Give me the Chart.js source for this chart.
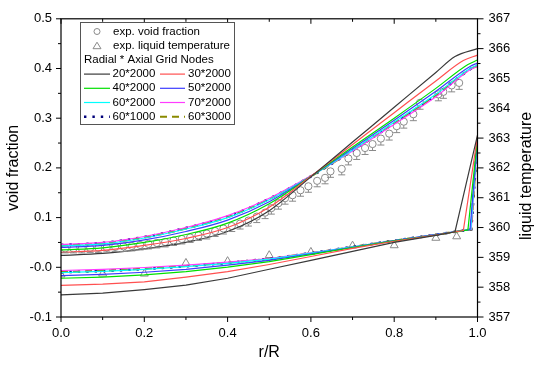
<!DOCTYPE html>
<html>
<head>
<meta charset="utf-8">
<script src="https://cdn.jsdelivr.net/npm/chart.js@4.4.1/dist/chart.umd.min.js"></script>
<style>
  html, body { margin: 0; padding: 0; background: #fff; }
</style>
</head>
<body>
<canvas id="chart" width="534" height="366"></canvas>
<script>
// radial positions shared by all simulated curves (plus a per-series kink point and the wall)
const rGrid = [0, 0.1, 0.2, 0.3, 0.4, 0.5, 0.6, 0.7, 0.8, 0.9];
const seriesNames = ['20*2000', '30*2000', '40*2000', '50*2000', '60*2000', '70*2000', '60*3000', '60*1000'];
const kinkR = [0.946, 0.966, 0.977, 0.982, 0.984, 0.985, 0.985, 0.985];

// void fraction (left axis): values at rGrid, kink, r/R = 1
const void20 = [0.024, 0.028, 0.037, 0.050, 0.072, 0.114, 0.182, 0.252, 0.322, 0.392, 0.424, 0.440];
const void30 = [0.030, 0.034, 0.044, 0.058, 0.080, 0.121, 0.183, 0.247, 0.311, 0.375, 0.416, 0.427];
const void40 = [0.035, 0.039, 0.050, 0.066, 0.089, 0.128, 0.183, 0.242, 0.300, 0.360, 0.408, 0.417];
const void50 = [0.040, 0.044, 0.055, 0.072, 0.095, 0.132, 0.183, 0.239, 0.296, 0.354, 0.404, 0.411];
const void60 = [0.043, 0.047, 0.059, 0.077, 0.100, 0.136, 0.183, 0.236, 0.292, 0.348, 0.401, 0.407];
const void70 = [0.046, 0.050, 0.062, 0.080, 0.104, 0.139, 0.184, 0.234, 0.288, 0.343, 0.399, 0.404];
const void60x3000 = [0.044, 0.048, 0.060, 0.078, 0.101, 0.137, 0.183, 0.235, 0.290, 0.346, 0.400, 0.405];
const void60x1000 = [0.045, 0.049, 0.061, 0.079, 0.102, 0.138, 0.183, 0.235, 0.290, 0.346, 0.400, 0.406];

// liquid temperature (right axis)
const temp20 = [357.74, 357.80, 357.92, 358.07, 358.30, 358.60, 358.90, 359.20, 359.50, 359.74, 359.86, 363.10];
const temp30 = [358.06, 358.10, 358.18, 358.34, 358.52, 358.76, 359.03, 359.30, 359.54, 359.75, 359.90, 363.05];
const temp40 = [358.30, 358.34, 358.41, 358.52, 358.67, 358.86, 359.09, 359.33, 359.55, 359.75, 359.92, 363.00];
const temp50 = [358.39, 358.43, 358.50, 358.60, 358.74, 358.90, 359.12, 359.34, 359.56, 359.76, 359.93, 362.95];
const temp60 = [358.49, 358.53, 358.60, 358.69, 358.80, 358.94, 359.14, 359.35, 359.56, 359.76, 359.94, 362.95];
const temp70 = [358.56, 358.60, 358.66, 358.74, 358.84, 358.96, 359.15, 359.35, 359.56, 359.76, 359.94, 362.95];
const temp60x3000 = [358.51, 358.55, 358.62, 358.71, 358.82, 358.95, 359.14, 359.35, 359.56, 359.76, 359.94, 362.95];
const temp60x1000 = [358.50, 358.54, 358.61, 358.70, 358.81, 358.95, 359.14, 359.35, 359.56, 359.76, 359.94, 362.95];

// experiments
const expVoidR = [0.01, 0.03, 0.05, 0.07, 0.09, 0.11, 0.13, 0.15, 0.17, 0.19, 0.21, 0.23, 0.25, 0.27, 0.29,
  0.31, 0.33, 0.35, 0.37, 0.39, 0.41, 0.43, 0.45, 0.47, 0.49, 0.505, 0.522, 0.538, 0.556, 0.575, 0.594,
  0.615, 0.634, 0.647, 0.674, 0.69, 0.71, 0.73, 0.748, 0.768, 0.788, 0.806, 0.823, 0.846, 0.862,
  0.906, 0.918, 0.938, 0.956];
const expVoid = [0.038, 0.038, 0.038, 0.039, 0.039, 0.040, 0.041, 0.042, 0.043, 0.045, 0.047, 0.049, 0.051,
  0.054, 0.057, 0.060, 0.064, 0.068, 0.073, 0.078, 0.083, 0.088, 0.094, 0.102, 0.110, 0.119, 0.129,
  0.139, 0.145, 0.155, 0.163, 0.174, 0.180, 0.193, 0.198, 0.219, 0.230, 0.240, 0.248, 0.259, 0.269,
  0.284, 0.293, 0.308, 0.331, 0.348, 0.353, 0.366, 0.371];
const expVoidErr = [0.009, 0.009, 0.009, 0.009, 0.009, 0.009, 0.009, 0.010, 0.010, 0.010, 0.010, 0.010,
  0.010, 0.010, 0.010, 0.010, 0.010, 0.011, 0.011, 0.011, 0.011, 0.011, 0.011, 0.012, 0.012, 0.012,
  0.012, 0.012, 0.012, 0.012, 0.012, 0.012, 0.012, 0.012, 0.012, 0.013, 0.013, 0.013, 0.013, 0.013,
  0.013, 0.013, 0.013, 0.013, 0.013, 0.013, 0.013, 0.013, 0.013];
const expTempR = [0, 0.1, 0.2, 0.3, 0.4, 0.5, 0.6, 0.7, 0.8, 0.9, 0.95];
const expTemp = [358.42, 358.45, 358.45, 358.81, 358.87, 359.07, 359.18, 359.39, 359.40, 359.65, 359.70];

const xTicks = [0, 0.2, 0.4, 0.6, 0.8, 1.0];

const colors = ['#3a3a3a', '#ff5050', '#00e000', '#3c3cff', '#00ffff', '#ff3cff', '#8a8a00', '#00007a'];
const voidSets = [void20, void30, void40, void50, void60, void70, void60x3000, void60x1000];
const tempSets = [temp20, temp30, temp40, temp50, temp60, temp70, temp60x3000, temp60x1000];

function toPts(vals, kink) {
  const rs = rGrid.concat([kink, 1.0]);
  return rs.map((r, i) => ({ x: r, y: vals[i] }));
}

function lineStyle(i) {
  if (i === 7) return { borderWidth: 2.6, borderDash: [2.4, 6], borderCapStyle: 'butt' };
  if (i === 6) return { borderWidth: 2, borderDash: [7, 5], borderCapStyle: 'butt' };
  return { borderWidth: 1.2, borderDash: [] };
}

const datasets = [];
tempSets.forEach((vals, i) => {
  datasets.push(Object.assign({
    label: seriesNames[i] + ' T', data: toPts(vals, kinkR[i]), yAxisID: 'y2',
    borderColor: colors[i], pointRadius: 0, fill: false, tension: 0
  }, lineStyle(i)));
});
voidSets.forEach((vals, i) => {
  datasets.push(Object.assign({
    label: seriesNames[i], data: toPts(vals, kinkR[i]), yAxisID: 'y',
    borderColor: colors[i], pointRadius: 0, fill: false, cubicInterpolationMode: 'monotone'
  }, lineStyle(i)));
});
datasets.push({
  label: 'exp. void fraction', data: expVoidR.map((r, i) => ({ x: r, y: expVoid[i] })), yAxisID: 'y',
  showLine: false, pointStyle: 'circle', pointRadius: 3.6, borderWidth: 1,
  pointBorderColor: '#8a8a8a', pointBackgroundColor: 'rgba(255,255,255,0)'
});
datasets.push({
  label: 'exp. liquid temperature', data: expTempR.map((r, i) => ({ x: r, y: expTemp[i] })), yAxisID: 'y2',
  showLine: false, pointStyle: 'triangle', pointRadius: 4.6, borderWidth: 1,
  pointBorderColor: '#8a8a8a', pointBackgroundColor: 'rgba(255,255,255,0)'
});

const FONT = '"Liberation Sans", Arial, sans-serif';

const errorBars = {
  id: 'errorBars',
  afterDatasetsDraw(chart) {
    const ctx = chart.ctx, x = chart.scales.x, y = chart.scales.y;
    ctx.save();
    ctx.strokeStyle = '#8a8a8a';
    ctx.lineWidth = 1;
    expVoidR.forEach((r, i) => {
      const px = x.getPixelForValue(r);
      const py = y.getPixelForValue(expVoid[i]);
      const pb = y.getPixelForValue(expVoid[i] - expVoidErr[i]);
      ctx.beginPath();
      ctx.moveTo(px, py + 3.6);
      ctx.lineTo(px, pb);
      ctx.moveTo(px - 3.5, pb);
      ctx.lineTo(px + 3.5, pb);
      ctx.stroke();
    });
    ctx.restore();
  }
};

const frame = {
  id: 'frame',
  afterDraw(chart) {
    const ctx = chart.ctx, a = chart.chartArea;
    const x = chart.scales.x, y = chart.scales.y, y2 = chart.scales.y2;
    ctx.save();
    ctx.strokeStyle = '#000';
    ctx.lineWidth = 1.2;
    ctx.strokeRect(a.left, a.top, a.right - a.left, a.bottom - a.top);
    ctx.lineWidth = 1;
    ctx.beginPath();
    for (let k = 0; k <= 10; k++) {
      const px = x.getPixelForValue(k / 10);
      const len = k % 2 === 0 ? 5 : 3;
      ctx.moveTo(px, a.bottom); ctx.lineTo(px, a.bottom + len);
      ctx.moveTo(px, a.top); ctx.lineTo(px, a.top + len);
    }
    for (let k = 0; k <= 12; k++) {
      const py = y.getPixelForValue(-0.1 + k * 0.05);
      const len = k % 2 === 0 ? 5 : 3;
      ctx.moveTo(a.left, py); ctx.lineTo(a.left - len, py);
    }
    for (let k = 0; k <= 20; k++) {
      const py = y2.getPixelForValue(357 + k * 0.5);
      const len = k % 2 === 0 ? 6 : 3;
      ctx.moveTo(a.right, py); ctx.lineTo(a.right + len, py);
    }
    ctx.stroke();

    // axis titles
    ctx.fillStyle = '#000';
    ctx.font = '16px ' + FONT;
    ctx.textAlign = 'center';
    ctx.textBaseline = 'middle';
    ctx.fillText('r/R', (a.left + a.right) / 2, 353);
    ctx.save();
    ctx.translate(14, (a.top + a.bottom) / 2);
    ctx.rotate(-Math.PI / 2);
    ctx.fillText('void fraction', 0, 0);
    ctx.restore();
    ctx.save();
    ctx.translate(527, (a.top + a.bottom) / 2 + 8);
    ctx.rotate(-Math.PI / 2);
    ctx.fillText('liquid temperature', 0, 0);
    ctx.restore();

    // legend
    const bx = 80.5, by = 22.5, bw = 154, bh = 102;
    ctx.fillStyle = '#fff';
    ctx.fillRect(bx, by, bw, bh);
    ctx.strokeStyle = '#555';
    ctx.lineWidth = 1;
    ctx.strokeRect(bx, by, bw, bh);
    const rowY = [31.5, 45.7, 59.9, 74.1, 88.3, 102.5, 116.7];
    ctx.font = '11.5px ' + FONT;
    ctx.textAlign = 'left';
    ctx.fillStyle = '#000';
    ctx.strokeStyle = '#8a8a8a';
    ctx.beginPath();
    ctx.arc(97, rowY[0], 3, 0, Math.PI * 2);
    ctx.stroke();
    ctx.beginPath();
    ctx.moveTo(97, rowY[1] - 3.5); ctx.lineTo(101, rowY[1] + 3); ctx.lineTo(93, rowY[1] + 3); ctx.closePath();
    ctx.stroke();
    ctx.fillText('exp. void fraction', 113, rowY[0]);
    ctx.fillText('exp. liquid temperature', 113, rowY[1]);
    ctx.fillText('Radial * Axial Grid Nodes', 84, rowY[2]);
    const order = [[0, 1], [2, 3], [4, 5], [7, 6]];
    order.forEach((pair, row) => {
      const ry = rowY[3 + row];
      pair.forEach((si, col) => {
        const x0 = col === 0 ? 84 : 160, x1 = col === 0 ? 110 : 185, tx = col === 0 ? 112.5 : 188;
        const st = lineStyle(si);
        ctx.save();
        ctx.strokeStyle = colors[si];
        ctx.lineWidth = st.borderWidth;
        ctx.setLineDash(st.borderDash);
        ctx.lineCap = 'butt';
        ctx.beginPath();
        ctx.moveTo(x0, ry); ctx.lineTo(x1, ry);
        ctx.stroke();
        ctx.restore();
        ctx.fillText(seriesNames[si], tx, ry);
      });
    });
    ctx.restore();
  }
};

new Chart(document.getElementById('chart'), {
  type: 'line',
  data: { datasets },
  options: {
    responsive: false,
    devicePixelRatio: 1,
    animation: false,
    layout: { padding: { top: 7, left: 0, right: 0, bottom: 0 } },
    plugins: { legend: { display: false }, tooltip: { enabled: false } },
    scales: {
      x: {
        type: 'linear', min: 0, max: 1,
        afterBuildTicks: s => { s.ticks = xTicks.map(v => ({ value: v })); },
        ticks: { callback: v => v.toFixed(1), font: { size: 13, family: FONT }, color: '#000', padding: 9, maxRotation: 0 },
        grid: { display: false, drawTicks: false }, border: { display: false },
        afterFit: s => { s.height = 49; }
      },
      y: {
        position: 'left', min: -0.1, max: 0.5,
        ticks: { stepSize: 0.1, callback: v => v.toFixed(1), font: { size: 13, family: FONT }, color: '#000', padding: 9 },
        grid: { display: false, drawTicks: false }, border: { display: false },
        afterFit: s => { s.width = 61; }
      },
      y2: {
        position: 'right', min: 357, max: 367,
        ticks: { stepSize: 1, font: { size: 13, family: FONT }, color: '#000', padding: 11 },
        grid: { display: false, drawTicks: false }, border: { display: false },
        afterFit: s => { s.width = 56.5; }
      }
    }
  },
  plugins: [errorBars, frame]
});
</script>
</body>
</html>
